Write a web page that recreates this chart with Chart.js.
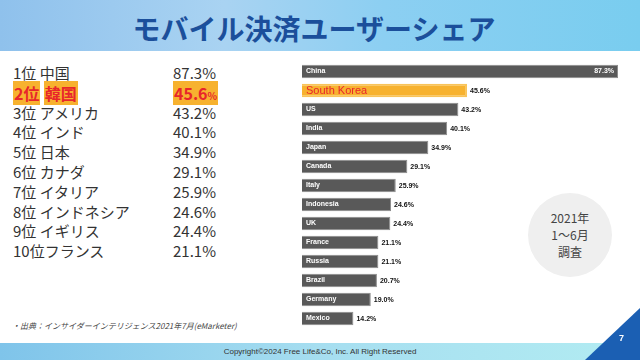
<!DOCTYPE html>
<html>
<head>
<meta charset="utf-8">
<script src="https://cdn.jsdelivr.net/npm/chart.js@4"></script>
<style>
  html,body{margin:0;padding:0;}
  body{width:640px;height:360px;position:relative;overflow:hidden;background:#fff;font-family:"Noto Sans CJK JP","Liberation Sans",sans-serif;}
  #banner{position:absolute;left:0;top:0;width:640px;height:51px;
    background:linear-gradient(90deg,#8fc1ec 0%,#a9d3f2 35%,#8ccff2 60%,#79cdef 100%);}
  #title{position:absolute;left:0;top:0;width:628px;height:56px;line-height:56px;text-align:center;
    font-size:28px;font-weight:bold;color:#1b4f9b;}
  .row{position:absolute;left:13px;height:20px;line-height:20px;font-size:15px;color:#333;white-space:nowrap;}
  .val{position:absolute;left:173px;height:20px;line-height:20px;font-size:15px;color:#333;}
  .hl{background:#f7b22f;color:#e8262b;font-weight:bold;font-size:16px;padding:0 1px;}
  .hl small{font-size:10px;}
  #chartBox{position:absolute;left:302px;top:62px;width:316px;height:266px;}
  #circle{position:absolute;left:528px;top:193px;width:84px;height:84px;border-radius:50%;background:#efefef;
    text-align:center;font-size:12px;line-height:17px;color:#444;padding-top:16px;box-sizing:border-box;}
  #source{position:absolute;left:12px;top:320px;font-size:8px;color:#444;font-style:italic;}
  #footer{position:absolute;left:0;top:343px;width:640px;height:17px;
    background:linear-gradient(90deg,#7fc4ea 0%,#a6def0 50%,#b2ecf2 100%);}
  #copy{position:absolute;left:0;top:343px;width:640px;height:17px;line-height:17px;text-align:center;font-size:8px;color:#333;font-family:"Liberation Sans",sans-serif;}
  #tri{position:absolute;left:585px;top:308px;width:55px;height:52px;background:#1b5fb3;clip-path:polygon(100% 0,100% 100%,0 100%);}
  #page{position:absolute;left:619px;top:333px;font-size:9px;font-weight:bold;color:#fff;font-family:"Liberation Sans",sans-serif;}
</style>
</head>
<body>
<div id="banner"></div>
<div id="title">モバイル決済ユーザーシェア</div>
<div id="list"></div>
<div id="chartBox"><canvas id="barChart"></canvas></div>
<div id="circle">2021年<br>1〜6月<br>調査</div>
<div id="source">・出典：インサイダーインテリジェンス2021年7月(eMarketer)</div>
<div id="footer"></div>
<div id="copy">Copyright©2024 Free Life&amp;Co, Inc. All Right Reserved</div>
<div id="tri"></div>
<div id="page">7</div>
<script>
// data
const countries = ['China','South Korea','US','India','Japan','Canada','Italy','Indonesia','UK','France','Russia','Brazil','Germany','Mexico'];
const shares = [87.3,45.6,43.2,40.1,34.9,29.1,25.9,24.6,24.4,21.1,21.1,20.7,19.0,14.2];
const rankNamesJa = ['中国','韓国','アメリカ','インド','日本','カナダ','イタリア','インドネシア','イギリス','フランス'];
const highlight = 1; // South Korea

// ranking list on the left
const list = document.getElementById('list');
rankNamesJa.forEach((name, i)=>{
  const top = 63 + i*19.8;
  const row = document.createElement('div');
  row.className = 'row';
  row.style.top = top + 'px';
  const val = document.createElement('div');
  val.className = 'val';
  val.style.top = top + 'px';
  const v = shares[i].toFixed(1);
  if(i === highlight){
    row.innerHTML = '<span class="hl">' + (i+1) + '位</span> <span class="hl">' + name + '</span>';
    val.innerHTML = '<span class="hl">' + v + '<small>%</small></span>';
  } else {
    row.textContent = (i+1) + '位' + (i < 9 ? ' ' : '') + name;
    val.textContent = v + '%';
  }
  list.appendChild(row);
  list.appendChild(val);
});

// labels inside / next to bars
const barLabels = {
  id:'barLabels',
  afterDatasetsDraw(chart){
    const ctx = chart.ctx;
    const meta = chart.getDatasetMeta(0);
    ctx.save();
    ctx.textBaseline = 'middle';
    meta.data.forEach((bar, i)=>{
      const y = bar.y;
      if(i === highlight){
        ctx.font = '11px "Liberation Sans", sans-serif';
        ctx.fillStyle = '#e8262b';
      } else {
        ctx.font = 'bold 7px "Liberation Sans", sans-serif';
        ctx.fillStyle = '#fff';
      }
      ctx.textAlign = 'left';
      ctx.fillText(countries[i], bar.base + 4, y);
      ctx.font = 'bold 7px "Liberation Sans", sans-serif';
      const txt = shares[i].toFixed(1) + '%';
      if(i === 0){
        ctx.fillStyle = '#fff';
        ctx.textAlign = 'right';
        ctx.fillText(txt, bar.x - 4, y);
      } else {
        ctx.fillStyle = '#111';
        ctx.textAlign = 'left';
        ctx.fillText(txt, bar.x + 3, y + 1);
      }
    });
    ctx.restore();
  }
};

const ctx = document.getElementById('barChart').getContext('2d');
new Chart(ctx, {
  type:'bar',
  data:{
    labels: countries,
    datasets:[{
      data: shares,
      backgroundColor: countries.map((c,i)=> i===highlight ? '#f7b22f' : '#595959'),
      borderColor: countries.map((c,i)=> i===highlight ? '#f9c45a' : '#8c8c8c'),
      borderWidth: countries.map((c,i)=> i===highlight ? 2 : 1),
      barPercentage: 0.72,
      categoryPercentage: 1
    }]
  },
  plugins:[barLabels],
  options:{
    indexAxis:'y',
    responsive:true,
    maintainAspectRatio:false,
    animation:false,
    layout:{padding:0},
    plugins:{legend:{display:false}, tooltip:{enabled:false}},
    scales:{
      x:{display:false, min:0, max:87.3},
      y:{display:false}
    }
  }
});
</script>
</body>
</html>
